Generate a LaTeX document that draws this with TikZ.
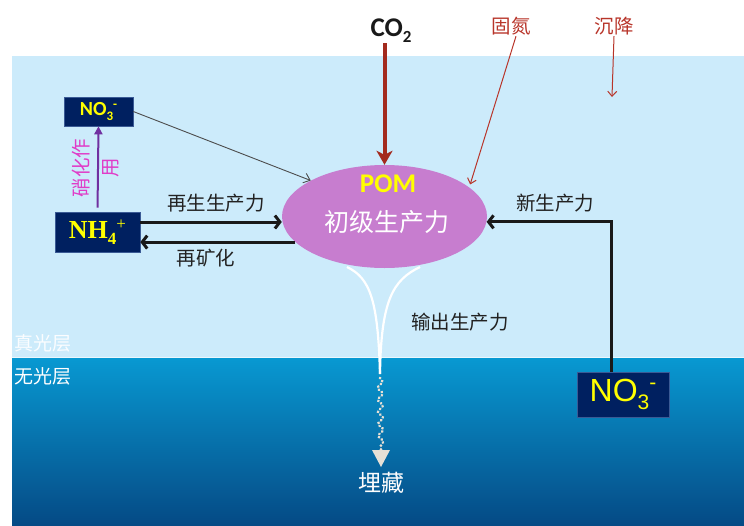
\documentclass[tikz,border=0pt]{standalone}
\usepackage{fontspec}
\usetikzlibrary{shapes.geometric,arrows.meta,decorations.pathmorphing}
\newfontfamily\cjk{Noto Sans CJK SC}
\newfontfamily\carl{Carlito}
\newfontfamily\libserif{Liberation Serif}
\newfontfamily\libsans{Liberation Sans}
\definecolor{skyA}{HTML}{CCEBFB}
\definecolor{deepTop}{HTML}{0899D2}
\definecolor{deepMid}{HTML}{0270B0}
\definecolor{deepBot}{HTML}{054A85}
\definecolor{navy}{HTML}{002060}
\definecolor{navyedge}{HTML}{3A5A95}
\definecolor{pomc}{HTML}{C77DCF}
\definecolor{co2red}{HTML}{A32A1E}
\definecolor{fixred}{HTML}{B8352A}
\definecolor{nitro}{HTML}{7030A0}
\definecolor{magtext}{HTML}{E03CC8}
\definecolor{beigec}{HTML}{E6E0D6}
\definecolor{ylw}{HTML}{FFFF00}
\definecolor{labtxt}{HTML}{222222}
\tikzset{
  ionbox/.style={draw=navyedge, line width=0.6pt, fill=navy, inner sep=0pt, text=ylw},
  cnlab/.style={font=\cjk\fontsize{19.5}{20}\selectfont, text=labtxt, inner sep=1pt},
  redlab/.style={font=\cjk\fontsize{19.5}{20}\selectfont, text=fixred, inner sep=1pt},
  blkarrow/.style={draw=black!90, line width=3pt, -{Straight Barb[length=5pt,width=13pt]}},
  co2arrow/.style={draw=co2red, line width=4pt, -{Stealth[length=14pt,width=16pt,inset=4pt]}},
  thinred/.style={draw=fixred, line width=1pt, -{Straight Barb[length=5pt,width=9pt]}},
  thingray/.style={draw=black!70, line width=0.9pt, -{Straight Barb[length=6pt,width=10pt]}},
  nitroarrow/.style={draw=nitro, line width=2pt, -{Triangle[length=8pt,width=8pt]}},
  funnel/.style={draw=white, line width=2.2pt},
}
\begin{document}
\begin{tikzpicture}[x=1pt,y=-1pt]
\useasboundingbox (0,0) rectangle (744,525);
% water layers
\fill[skyA] (12,56) rectangle (744,357);
\shade[top color=deepTop, middle color=deepMid, bottom color=deepBot] (12,357) rectangle (744,525);
\draw[white!60!skyA, line width=0.8pt] (12,357) -- (744,357);

% layer labels
\node[anchor=west, font=\cjk\fontsize{19}{19}\selectfont, text=white!92!skyA, inner sep=0] (euph) at (14,343) {真光层};
\node[anchor=west, font=\cjk\fontsize{19}{19}\selectfont, text=white, inner sep=0] (aphot) at (14,376) {无光层};

% POM ellipse
\node[ellipse, fill=pomc, minimum width=205pt, minimum height=103pt, inner sep=0] (pom) at (384.5,216.5) {};
\node[font=\carl\bfseries\fontsize{27}{27}\selectfont, text=ylw, inner sep=0] (pomtxt) at (388,184) {POM};
\node[font=\cjk\fontsize{25}{25}\selectfont, text=white, inner sep=0] (prim) at (387,222) {初级生产力};

% top labels
\node[font=\carl\bfseries\fontsize{27}{27}\selectfont, text=black!90, inner sep=0, anchor=south] (co2) at (391,43) {CO\raisebox{-6pt}{\fontsize{17}{17}\selectfont 2}};
\node[redlab] (gudan) at (511,26) {固氮};
\node[redlab] (chenj) at (614,26) {沉降};
\coordinate (settle) at (612,97);

% ion boxes
\node[ionbox, minimum width=69pt, minimum height=29pt, font=\carl\bfseries\fontsize{20}{20}\selectfont] (no3a) at (98.5,111.5)
  {NO\raisebox{-5pt}{\fontsize{13}{13}\selectfont 3}\raisebox{7pt}{\fontsize{13}{13}\selectfont -}};
\node[ionbox, minimum width=85pt, minimum height=40pt, font=\libserif\bfseries\fontsize{26}{26}\selectfont] (nh4) at (97.5,232)
  {NH\raisebox{-6pt}{\fontsize{17}{17}\selectfont 4}\raisebox{9pt}{\fontsize{17}{17}\selectfont\mdseries +}};
\node[ionbox, minimum width=92pt, minimum height=45pt, font=\libsans\fontsize{32}{32}\selectfont] (no3b) at (623,394.5)
  {NO\raisebox{-8pt}{\fontsize{21}{21}\selectfont 3}\raisebox{12pt}{\fontsize{21}{21}\selectfont -}};

% nitrification
\draw[nitroarrow, shorten <=4pt] (nh4.north) -- (no3a.south);
\node[rotate=90, font=\cjk\fontsize{19.5}{20}\selectfont, text=magtext, inner sep=0] (nitA) at (81,168) {硝化作};
\node[rotate=90, font=\cjk\fontsize{19.5}{20}\selectfont, text=magtext, inner sep=0] (nitB) at (111,168) {用};

% connectors
\draw[co2arrow] (pom.north |- co2.south) -- (pom.north);
\draw[thinred, shorten >=3pt] ([xshift=5pt]gudan.south) -- (pom.19);
\draw[thinred] (chenj.south) -- (settle);
\draw[thingray] (no3a.east) -- (pom.154);
\draw[blkarrow] ([yshift=10pt]nh4.east) -- ([yshift=10pt]nh4.east -| pom.west);
\draw[blkarrow] (pom.196) -- (pom.196 -| nh4.east);
\draw[blkarrow] ([xshift=-12pt]no3b.north) |- (pom.-3);

% connector labels
\node[cnlab] (regen) at (216,203) {再生生产力};
\node[cnlab] (remin) at (206,258) {再矿化};
\node[cnlab] (newp) at (555,203) {新生产力};
\node[cnlab] (expp) at (460,322) {输出生产力};

% export funnel
\coordinate (fl) at (347,267);
\coordinate (fr) at (420,267);
\coordinate (fun) at (380,374);
\draw[funnel] (fl) .. controls (370,278) and (378,300) .. (fun);
\draw[funnel] (fr) .. controls (393,280) and (381,300) .. (fun);

% burial
\node[font=\cjk\fontsize{23}{23}\selectfont, text=white!95!beigec, inner sep=0] (bury) at (381,483) {埋藏};
\coordinate (wend) at (381,451);
\draw[beigec, line width=3pt, line cap=round, dash pattern=on 0.1pt off 3.6pt,
      decorate, decoration={snake, amplitude=2.5pt, segment length=12pt}] ([yshift=-4pt]fun) -- (wend);
\fill[beigec] (372,450) -- (390,450) -- (381,467) -- cycle;
\end{tikzpicture}
\end{document}
